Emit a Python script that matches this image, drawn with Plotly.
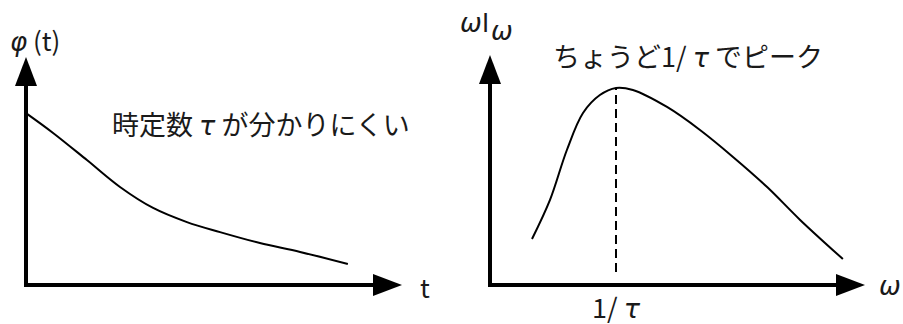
import plotly.graph_objects as go

W, H = 903, 324
FONT = "Noto Sans CJK JP"
GREEK = "DejaVu Sans"
INK = "#1a1a1a"

# left panel: relaxation function phi(t)
t_vals = [0, 0.72, 1.62, 2.5, 3.38, 4.28, 5.16, 6.22, 7.29, 8.56]
phi_vals = [0.754, 0.667, 0.548, 0.43, 0.338, 0.276, 0.232, 0.184, 0.145, 0.092]

# right panel: omega * I(omega)
omega_vals = [1.12, 1.6, 2.05, 2.48, 2.93, 3.36, 3.81, 4.72, 5.6, 6.48, 7.39, 8.27, 9.41]
wi_vals = [0.2, 0.37, 0.587, 0.748, 0.826, 0.857, 0.848, 0.774, 0.674, 0.557, 0.426, 0.283, 0.113]
omega_peak = 3.36
peak_val = 0.857
dash_bottom = 0.057

X_MAX, Y_MAX = 10, 1

# axes boxes in pixels: left, right (arrow tip), bottom (origin), top (arrow tip)
boxes = {
    "1": (26, 402, 285, 57),
    "2": (490, 865, 285, 55),
}
PAD = 22


def axis_setup(box):
    l, r, b, t = box
    sx = (r - l) / X_MAX
    sy = (b - t) / Y_MAX
    xa = dict(domain=[(l - PAD) / W, (r + PAD) / W],
              range=[-PAD / sx, X_MAX + PAD / sx], visible=False, fixedrange=True)
    ya = dict(domain=[(H - b - PAD) / H, (H - t + PAD) / H],
              range=[-PAD / sy, Y_MAX + PAD / sy], visible=False, fixedrange=True)
    return xa, ya, 1 / sx, 1 / sy


def arrow_axes(xr, yr, ux, uy):
    line = dict(color="black", width=4)
    head, half = 29, 11
    return [
        dict(type="line", xref=xr, yref=yr, x0=-2 * ux, y0=0,
             x1=X_MAX - head * 0.5 * ux, y1=0, line=line),
        dict(type="line", xref=xr, yref=yr, x0=0, y0=-2 * uy,
             x1=0, y1=Y_MAX - head * 0.5 * uy, line=line),
        dict(type="path", xref=xr, yref=yr, fillcolor="black", line_width=0,
             path=f"M{X_MAX},0 L{X_MAX - head * ux},{-half * uy} "
                  f"L{X_MAX - head * ux},{half * uy} Z"),
        dict(type="path", xref=xr, yref=yr, fillcolor="black", line_width=0,
             path=f"M0,{Y_MAX} L{-half * ux},{Y_MAX - head * uy} "
                  f"L{half * ux},{Y_MAX - head * uy} Z"),
    ]


def gk(s):
    # greek letters: slanted, hooked glyphs as in the original
    return f"<span style='font-family:{GREEK};font-style:italic'>{s}</span>"


fig = go.Figure()
fig.add_trace(go.Scatter(x=t_vals, y=phi_vals, mode="lines",
                         line=dict(color="black", width=2, shape="spline", smoothing=1.0),
                         xaxis="x", yaxis="y", hoverinfo="skip"))
fig.add_trace(go.Scatter(x=omega_vals, y=wi_vals, mode="lines",
                         line=dict(color="black", width=2, shape="spline", smoothing=1.0),
                         xaxis="x2", yaxis="y2", hoverinfo="skip"))
# dashed marker of the peak
fig.add_trace(go.Scatter(x=[omega_peak, omega_peak], y=[dash_bottom, peak_val], mode="lines",
                         line=dict(color="black", width=2, dash="9px,5px"),
                         xaxis="x2", yaxis="y2", hoverinfo="skip"))

xa1, ya1, ux1, uy1 = axis_setup(boxes["1"])
xa2, ya2, ux2, uy2 = axis_setup(boxes["2"])
ya1["anchor"] = "x"
xa1["anchor"] = "y"
xa2["anchor"] = "y2"
ya2["anchor"] = "x2"

shapes = arrow_axes("x", "y", ux1, uy1) + arrow_axes("x2", "y2", ux2, uy2)

big = dict(family=FONT, size=27, color=INK)
lab = dict(family=FONT, size=26, color=INK)


def note(text, xr, yr, x, y, font, xshift=0, yshift=0):
    return dict(text=text, xref=xr, yref=yr, x=x, y=y, showarrow=False,
                xanchor="center", yanchor="middle", font=font,
                xshift=xshift, yshift=yshift)


annotations = [
    note(gk("φ") + " (t)", "x", "y", 0, Y_MAX, lab, xshift=9, yshift=18),
    note("t", "x", "y", X_MAX, 0, lab, xshift=23, yshift=-1),
    note("時定数 " + gk("τ") + " が分かりにくい", "x", "y", 6.25, 0.71, big),
    note(gk("ω") + "I", "x2", "y2", 0, Y_MAX, lab, xshift=-15, yshift=35),
    note(gk("ω"), "x2", "y2", 0, Y_MAX, lab, xshift=12, yshift=24),
    note("ちょうど1/ " + gk("τ") + " でピーク", "x2", "y2", 5.28, 1.0, big),
    note("1/ " + gk("τ"), "x2", "y2", omega_peak, 0, big, yshift=-21),
    note(gk("ω"), "x2", "y2", X_MAX, 0, lab, xshift=25, yshift=-1),
]

fig.update_layout(
    width=W, height=H,
    margin=dict(l=0, r=0, t=0, b=0),
    paper_bgcolor="white", plot_bgcolor="white",
    showlegend=False,
    xaxis=xa1, yaxis=ya1, xaxis2=xa2, yaxis2=ya2,
    shapes=shapes, annotations=annotations,
)

fig.write_html("out.html", config=dict(displayModeBar=False),
               post_script="document.body.style.margin='0';")
